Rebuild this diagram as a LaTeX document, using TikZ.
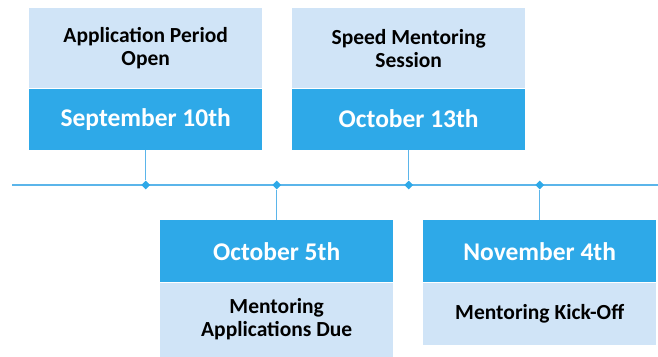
\documentclass[tikz,border=0pt]{standalone}
\usepackage{fontspec}
\setmainfont{Carlito}
\usepackage{xcolor}
\usetikzlibrary{shapes.geometric, positioning}
\definecolor{dateblue}{RGB}{46, 169, 232}
\definecolor{paleblue}{RGB}{208, 228, 247}
\definecolor{lineblue}{RGB}{91, 181, 234}

\begin{document}
\begin{tikzpicture}[
    x=1pt, y=-1pt,
    node distance=0pt,
    datebox/.style={rectangle, fill=dateblue, text=white, minimum width=233pt, minimum height=61pt, inner sep=0pt, text centered, font=\bfseries\fontsize{25.5}{28}\selectfont},
    eventbox/.style={rectangle, fill=paleblue, text=black, minimum width=233pt, inner sep=0pt, align=center, font=\bfseries\fontsize{21.5}{23}\selectfont},
    marker/.style={diamond, fill=dateblue, minimum size=9pt, inner sep=0pt},
    link/.style={lineblue, line width=1.2pt}
]
\useasboundingbox (0,0) rectangle (658,356);

\node[eventbox, minimum height=80pt, anchor=north west] (open) at (29,8) {Application Period\\Open};
\node[datebox, below=of open] (sep) {September 10th};
\node[eventbox, minimum height=80pt, anchor=north west] (speed) at (292,8) {Speed Mentoring\\Session};
\node[datebox, below=of speed] (oct13) {October 13th};

\node[datebox, minimum height=62pt, anchor=north west] (oct5) at (160,220) {October 5th};
\node[eventbox, minimum height=74pt, below=of oct5] (due) {Mentoring\\Applications Due};
\node[datebox, minimum height=62pt, anchor=north west] (nov4) at (423,220) {November 4th};
\node[eventbox, minimum height=62pt, below=of nov4] (kick) {Mentoring Kick-Off};

\coordinate (start) at (12,185);
\coordinate (end) at (658,185);
\draw[link] (start) -- (end);

\node[marker] (m1) at (sep.south |- start) {};
\node[marker] (m2) at (oct5.north |- start) {};
\node[marker] (m3) at (oct13.south |- start) {};
\node[marker] (m4) at (nov4.north |- start) {};

\draw[link] (sep) -- (m1);
\draw[link] (m2) -- (oct5);
\draw[link] (oct13) -- (m3);
\draw[link] (m4) -- (nov4);

\end{tikzpicture}
\end{document}
